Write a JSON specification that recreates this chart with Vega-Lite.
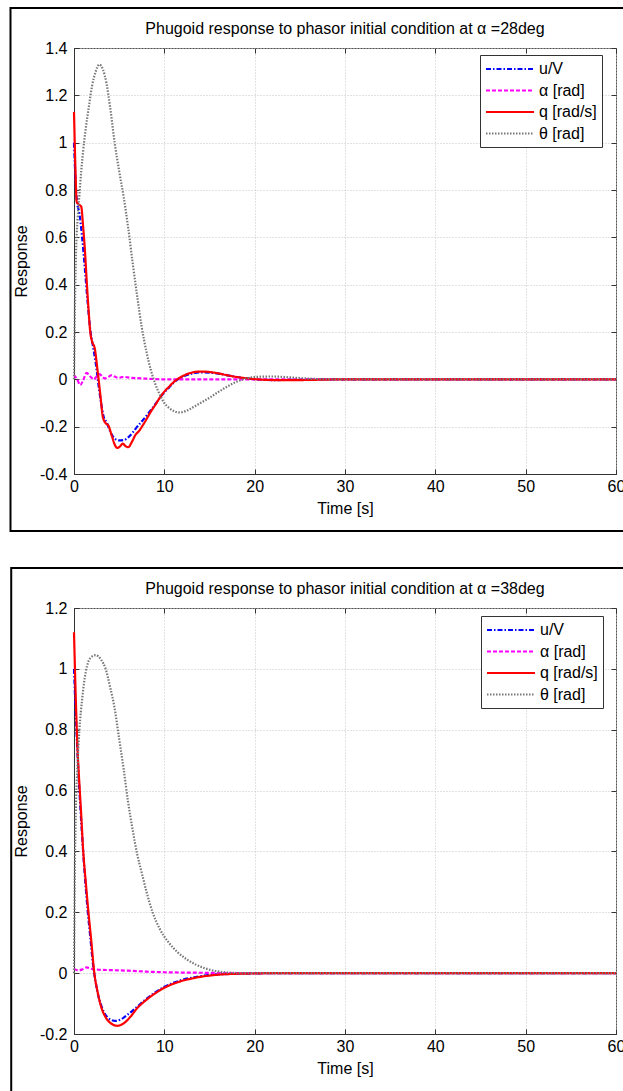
{
  "$schema": "https://vega.github.io/schema/vega-lite/v6.json",
  "background": "white",
  "padding": {"left": 8, "top": 6, "right": 0, "bottom": 0},
  "spacing": 33,
  "config": {
    "font": "Liberation Sans",
    "view": {"stroke": "#555555", "strokeWidth": 1},
    "axis": {
      "labelFont": "Liberation Sans", "labelFontSize": 16, "labelColor": "black",
      "titleFont": "Liberation Sans", "titleFontSize": 16, "titleFontWeight": "normal", "titleColor": "black",
      "gridColor": "#c4c4c4", "gridDash": [1, 2], "gridWidth": 1,
      "domainColor": "#333333", "tickColor": "#333333"
    },
    "legend": {
      "labelFont": "Liberation Sans", "labelFontSize": 16, "labelColor": "black"
    },
    "title": {"font": "Liberation Sans", "fontSize": 16, "fontWeight": "normal", "color": "black"}
  },
  "resolve": {"scale": {"color": "independent", "strokeDash": "independent"}},
  "datasets": {
    "d28": [
      {"s": "u/V", "t": 0, "v": 1.0}, {"s": "u/V", "t": 0.3, "v": 0.76}, {"s": "u/V", "t": 0.6, "v": 0.7}, {"s": "u/V", "t": 0.9, "v": 0.6},
      {"s": "u/V", "t": 1.2, "v": 0.47}, {"s": "u/V", "t": 1.5, "v": 0.33}, {"s": "u/V", "t": 1.8, "v": 0.21}, {"s": "u/V", "t": 2.1, "v": 0.14},
      {"s": "u/V", "t": 2.4, "v": 0.07}, {"s": "u/V", "t": 2.7, "v": -0.02}, {"s": "u/V", "t": 3.0, "v": -0.1}, {"s": "u/V", "t": 3.3, "v": -0.16},
      {"s": "u/V", "t": 3.6, "v": -0.18}, {"s": "u/V", "t": 4.0, "v": -0.22}, {"s": "u/V", "t": 4.5, "v": -0.25}, {"s": "u/V", "t": 5.0, "v": -0.258},
      {"s": "u/V", "t": 5.5, "v": -0.257}, {"s": "u/V", "t": 6.0, "v": -0.245}, {"s": "u/V", "t": 6.5, "v": -0.225}, {"s": "u/V", "t": 7.0, "v": -0.2},
      {"s": "u/V", "t": 7.5, "v": -0.178}, {"s": "u/V", "t": 8.0, "v": -0.155}, {"s": "u/V", "t": 8.5, "v": -0.13}, {"s": "u/V", "t": 9.0, "v": -0.105},
      {"s": "u/V", "t": 9.5, "v": -0.078}, {"s": "u/V", "t": 10.0, "v": -0.055}, {"s": "u/V", "t": 10.5, "v": -0.035}, {"s": "u/V", "t": 11.0, "v": -0.015},
      {"s": "u/V", "t": 11.5, "v": 0.0}, {"s": "u/V", "t": 12.0, "v": 0.01}, {"s": "u/V", "t": 12.5, "v": 0.018}, {"s": "u/V", "t": 13.0, "v": 0.024},
      {"s": "u/V", "t": 14.0, "v": 0.029}, {"s": "u/V", "t": 15.0, "v": 0.028}, {"s": "u/V", "t": 16.0, "v": 0.024}, {"s": "u/V", "t": 17.0, "v": 0.017},
      {"s": "u/V", "t": 18.0, "v": 0.01}, {"s": "u/V", "t": 19.0, "v": 0.004}, {"s": "u/V", "t": 20.0, "v": 0.0}, {"s": "u/V", "t": 22.0, "v": -0.003},
      {"s": "u/V", "t": 25.0, "v": -0.002}, {"s": "u/V", "t": 28.0, "v": 0.0}, {"s": "u/V", "t": 60.0, "v": 0.0},

      {"s": "α [rad]", "t": 0, "v": 0.018}, {"s": "α [rad]", "t": 0.35, "v": 0.0}, {"s": "α [rad]", "t": 0.7, "v": -0.024}, {"s": "α [rad]", "t": 1.0, "v": -0.005},
      {"s": "α [rad]", "t": 1.4, "v": 0.027}, {"s": "α [rad]", "t": 1.8, "v": 0.012}, {"s": "α [rad]", "t": 2.2, "v": 0.0}, {"s": "α [rad]", "t": 2.5, "v": 0.012},
      {"s": "α [rad]", "t": 2.85, "v": 0.022}, {"s": "α [rad]", "t": 3.1, "v": 0.012}, {"s": "α [rad]", "t": 3.4, "v": 0.004}, {"s": "α [rad]", "t": 3.8, "v": 0.01},
      {"s": "α [rad]", "t": 4.1, "v": 0.017}, {"s": "α [rad]", "t": 4.5, "v": 0.012}, {"s": "α [rad]", "t": 4.9, "v": 0.006}, {"s": "α [rad]", "t": 5.3, "v": 0.009},
      {"s": "α [rad]", "t": 5.6, "v": 0.01}, {"s": "α [rad]", "t": 6.2, "v": 0.007}, {"s": "α [rad]", "t": 7.0, "v": 0.005}, {"s": "α [rad]", "t": 8.0, "v": 0.003},
      {"s": "α [rad]", "t": 9.0, "v": 0.001}, {"s": "α [rad]", "t": 10.0, "v": 0.0}, {"s": "α [rad]", "t": 60.0, "v": 0.0},

      {"s": "q [rad/s]", "t": 0, "v": 1.13}, {"s": "q [rad/s]", "t": 0.15, "v": 0.9}, {"s": "q [rad/s]", "t": 0.3, "v": 0.75}, {"s": "q [rad/s]", "t": 0.5, "v": 0.74},
      {"s": "q [rad/s]", "t": 0.8, "v": 0.73}, {"s": "q [rad/s]", "t": 1.0, "v": 0.65}, {"s": "q [rad/s]", "t": 1.2, "v": 0.55}, {"s": "q [rad/s]", "t": 1.4, "v": 0.42},
      {"s": "q [rad/s]", "t": 1.6, "v": 0.3}, {"s": "q [rad/s]", "t": 1.8, "v": 0.2}, {"s": "q [rad/s]", "t": 2.0, "v": 0.16}, {"s": "q [rad/s]", "t": 2.3, "v": 0.13},
      {"s": "q [rad/s]", "t": 2.6, "v": 0.04}, {"s": "q [rad/s]", "t": 2.9, "v": -0.06}, {"s": "q [rad/s]", "t": 3.2, "v": -0.16}, {"s": "q [rad/s]", "t": 3.5, "v": -0.185},
      {"s": "q [rad/s]", "t": 3.8, "v": -0.195}, {"s": "q [rad/s]", "t": 4.2, "v": -0.24}, {"s": "q [rad/s]", "t": 4.5, "v": -0.275}, {"s": "q [rad/s]", "t": 4.8, "v": -0.29},
      {"s": "q [rad/s]", "t": 5.1, "v": -0.283}, {"s": "q [rad/s]", "t": 5.4, "v": -0.272}, {"s": "q [rad/s]", "t": 5.7, "v": -0.282}, {"s": "q [rad/s]", "t": 6.0, "v": -0.287},
      {"s": "q [rad/s]", "t": 6.4, "v": -0.265}, {"s": "q [rad/s]", "t": 6.8, "v": -0.235}, {"s": "q [rad/s]", "t": 7.2, "v": -0.218}, {"s": "q [rad/s]", "t": 7.6, "v": -0.195},
      {"s": "q [rad/s]", "t": 8.0, "v": -0.17}, {"s": "q [rad/s]", "t": 8.5, "v": -0.137}, {"s": "q [rad/s]", "t": 9.0, "v": -0.108}, {"s": "q [rad/s]", "t": 9.5, "v": -0.078},
      {"s": "q [rad/s]", "t": 10.0, "v": -0.052}, {"s": "q [rad/s]", "t": 10.5, "v": -0.032}, {"s": "q [rad/s]", "t": 11.0, "v": -0.013}, {"s": "q [rad/s]", "t": 11.5, "v": 0.002},
      {"s": "q [rad/s]", "t": 12.0, "v": 0.013}, {"s": "q [rad/s]", "t": 12.5, "v": 0.022}, {"s": "q [rad/s]", "t": 13.0, "v": 0.028}, {"s": "q [rad/s]", "t": 14.0, "v": 0.033},
      {"s": "q [rad/s]", "t": 15.0, "v": 0.031}, {"s": "q [rad/s]", "t": 16.0, "v": 0.025}, {"s": "q [rad/s]", "t": 17.0, "v": 0.017}, {"s": "q [rad/s]", "t": 18.0, "v": 0.01},
      {"s": "q [rad/s]", "t": 19.0, "v": 0.005}, {"s": "q [rad/s]", "t": 20.0, "v": 0.001}, {"s": "q [rad/s]", "t": 22.0, "v": -0.003}, {"s": "q [rad/s]", "t": 25.0, "v": -0.003},
      {"s": "q [rad/s]", "t": 28.0, "v": -0.001}, {"s": "q [rad/s]", "t": 30.0, "v": 0.0}, {"s": "q [rad/s]", "t": 60.0, "v": 0.0},

      {"s": "θ [rad]", "t": 0, "v": 0.0}, {"s": "θ [rad]", "t": 0.1, "v": 0.3}, {"s": "θ [rad]", "t": 0.2, "v": 0.5}, {"s": "θ [rad]", "t": 0.4, "v": 0.68},
      {"s": "θ [rad]", "t": 0.6, "v": 0.78}, {"s": "θ [rad]", "t": 0.8, "v": 0.88}, {"s": "θ [rad]", "t": 1.0, "v": 0.96}, {"s": "θ [rad]", "t": 1.3, "v": 1.06},
      {"s": "θ [rad]", "t": 1.6, "v": 1.14}, {"s": "θ [rad]", "t": 2.0, "v": 1.24}, {"s": "θ [rad]", "t": 2.4, "v": 1.3}, {"s": "θ [rad]", "t": 2.8, "v": 1.33},
      {"s": "θ [rad]", "t": 3.2, "v": 1.31}, {"s": "θ [rad]", "t": 3.6, "v": 1.25}, {"s": "θ [rad]", "t": 4.0, "v": 1.15}, {"s": "θ [rad]", "t": 4.5, "v": 1.0},
      {"s": "θ [rad]", "t": 5.0, "v": 0.88}, {"s": "θ [rad]", "t": 5.5, "v": 0.77}, {"s": "θ [rad]", "t": 6.0, "v": 0.64}, {"s": "θ [rad]", "t": 6.5, "v": 0.49},
      {"s": "θ [rad]", "t": 7.0, "v": 0.35}, {"s": "θ [rad]", "t": 7.5, "v": 0.22}, {"s": "θ [rad]", "t": 8.0, "v": 0.12}, {"s": "θ [rad]", "t": 8.5, "v": 0.04},
      {"s": "θ [rad]", "t": 9.0, "v": -0.02}, {"s": "θ [rad]", "t": 9.5, "v": -0.065}, {"s": "θ [rad]", "t": 10.0, "v": -0.1}, {"s": "θ [rad]", "t": 10.5, "v": -0.12},
      {"s": "θ [rad]", "t": 11.0, "v": -0.133}, {"s": "θ [rad]", "t": 11.7, "v": -0.14}, {"s": "θ [rad]", "t": 12.5, "v": -0.132}, {"s": "θ [rad]", "t": 13.0, "v": -0.122},
      {"s": "θ [rad]", "t": 14.0, "v": -0.1}, {"s": "θ [rad]", "t": 15.0, "v": -0.078}, {"s": "θ [rad]", "t": 16.0, "v": -0.053}, {"s": "θ [rad]", "t": 17.0, "v": -0.03},
      {"s": "θ [rad]", "t": 18.0, "v": -0.01}, {"s": "θ [rad]", "t": 19.0, "v": 0.003}, {"s": "θ [rad]", "t": 20.0, "v": 0.01}, {"s": "θ [rad]", "t": 22.0, "v": 0.012},
      {"s": "θ [rad]", "t": 24.0, "v": 0.008}, {"s": "θ [rad]", "t": 26.0, "v": 0.003}, {"s": "θ [rad]", "t": 28.0, "v": 0.0}, {"s": "θ [rad]", "t": 60.0, "v": 0.0}
    ],
    "d38": [
      {"s": "u/V", "t": 0, "v": 1.0}, {"s": "u/V", "t": 0.3, "v": 0.78}, {"s": "u/V", "t": 0.6, "v": 0.6}, {"s": "u/V", "t": 0.9, "v": 0.45},
      {"s": "u/V", "t": 1.2, "v": 0.32}, {"s": "u/V", "t": 1.5, "v": 0.21}, {"s": "u/V", "t": 1.8, "v": 0.12}, {"s": "u/V", "t": 2.1, "v": 0.03},
      {"s": "u/V", "t": 2.4, "v": -0.03}, {"s": "u/V", "t": 2.7, "v": -0.075}, {"s": "u/V", "t": 3.0, "v": -0.105}, {"s": "u/V", "t": 3.5, "v": -0.138},
      {"s": "u/V", "t": 4.0, "v": -0.152}, {"s": "u/V", "t": 4.6, "v": -0.157}, {"s": "u/V", "t": 5.2, "v": -0.152}, {"s": "u/V", "t": 6.0, "v": -0.135},
      {"s": "u/V", "t": 7.0, "v": -0.11}, {"s": "u/V", "t": 8.0, "v": -0.085}, {"s": "u/V", "t": 9.0, "v": -0.063}, {"s": "u/V", "t": 10.0, "v": -0.045},
      {"s": "u/V", "t": 11.0, "v": -0.032}, {"s": "u/V", "t": 12.0, "v": -0.022}, {"s": "u/V", "t": 13.0, "v": -0.015}, {"s": "u/V", "t": 14.0, "v": -0.01},
      {"s": "u/V", "t": 15.0, "v": -0.006}, {"s": "u/V", "t": 16.0, "v": -0.004}, {"s": "u/V", "t": 18.0, "v": -0.002}, {"s": "u/V", "t": 20.0, "v": -0.001},
      {"s": "u/V", "t": 22.0, "v": 0.0}, {"s": "u/V", "t": 60.0, "v": 0.0},

      {"s": "α [rad]", "t": 0, "v": 0.014}, {"s": "α [rad]", "t": 0.5, "v": 0.009}, {"s": "α [rad]", "t": 0.9, "v": 0.012}, {"s": "α [rad]", "t": 1.4, "v": 0.019},
      {"s": "α [rad]", "t": 1.8, "v": 0.015}, {"s": "α [rad]", "t": 2.5, "v": 0.012}, {"s": "α [rad]", "t": 4.0, "v": 0.01}, {"s": "α [rad]", "t": 6.0, "v": 0.008},
      {"s": "α [rad]", "t": 8.0, "v": 0.005}, {"s": "α [rad]", "t": 10.0, "v": 0.003}, {"s": "α [rad]", "t": 12.0, "v": 0.002}, {"s": "α [rad]", "t": 15.0, "v": 0.001},
      {"s": "α [rad]", "t": 18.0, "v": 0.0}, {"s": "α [rad]", "t": 60.0, "v": 0.0},

      {"s": "q [rad/s]", "t": 0, "v": 1.12}, {"s": "q [rad/s]", "t": 0.2, "v": 0.9}, {"s": "q [rad/s]", "t": 0.4, "v": 0.73}, {"s": "q [rad/s]", "t": 0.6, "v": 0.62},
      {"s": "q [rad/s]", "t": 0.8, "v": 0.52}, {"s": "q [rad/s]", "t": 1.0, "v": 0.41}, {"s": "q [rad/s]", "t": 1.3, "v": 0.3}, {"s": "q [rad/s]", "t": 1.6, "v": 0.2},
      {"s": "q [rad/s]", "t": 1.9, "v": 0.11}, {"s": "q [rad/s]", "t": 2.25, "v": 0.0}, {"s": "q [rad/s]", "t": 2.6, "v": -0.06}, {"s": "q [rad/s]", "t": 3.0, "v": -0.11},
      {"s": "q [rad/s]", "t": 3.5, "v": -0.145}, {"s": "q [rad/s]", "t": 4.0, "v": -0.163}, {"s": "q [rad/s]", "t": 4.8, "v": -0.173}, {"s": "q [rad/s]", "t": 5.5, "v": -0.165},
      {"s": "q [rad/s]", "t": 6.2, "v": -0.145}, {"s": "q [rad/s]", "t": 7.0, "v": -0.115}, {"s": "q [rad/s]", "t": 8.0, "v": -0.088}, {"s": "q [rad/s]", "t": 9.0, "v": -0.066},
      {"s": "q [rad/s]", "t": 10.0, "v": -0.048}, {"s": "q [rad/s]", "t": 11.0, "v": -0.035}, {"s": "q [rad/s]", "t": 12.0, "v": -0.025}, {"s": "q [rad/s]", "t": 13.0, "v": -0.018},
      {"s": "q [rad/s]", "t": 14.0, "v": -0.012}, {"s": "q [rad/s]", "t": 15.0, "v": -0.008}, {"s": "q [rad/s]", "t": 16.0, "v": -0.005}, {"s": "q [rad/s]", "t": 18.0, "v": -0.002},
      {"s": "q [rad/s]", "t": 20.0, "v": -0.001}, {"s": "q [rad/s]", "t": 22.0, "v": 0.0}, {"s": "q [rad/s]", "t": 60.0, "v": 0.0},

      {"s": "θ [rad]", "t": 0, "v": 0.0}, {"s": "θ [rad]", "t": 0.1, "v": 0.35}, {"s": "θ [rad]", "t": 0.2, "v": 0.53}, {"s": "θ [rad]", "t": 0.4, "v": 0.69},
      {"s": "θ [rad]", "t": 0.6, "v": 0.8}, {"s": "θ [rad]", "t": 0.9, "v": 0.9}, {"s": "θ [rad]", "t": 1.3, "v": 0.99}, {"s": "θ [rad]", "t": 1.8, "v": 1.035},
      {"s": "θ [rad]", "t": 2.4, "v": 1.045}, {"s": "θ [rad]", "t": 3.0, "v": 1.03}, {"s": "θ [rad]", "t": 3.5, "v": 1.0}, {"s": "θ [rad]", "t": 4.0, "v": 0.94},
      {"s": "θ [rad]", "t": 4.5, "v": 0.87}, {"s": "θ [rad]", "t": 5.0, "v": 0.77}, {"s": "θ [rad]", "t": 5.5, "v": 0.67}, {"s": "θ [rad]", "t": 6.0, "v": 0.56},
      {"s": "θ [rad]", "t": 6.5, "v": 0.47}, {"s": "θ [rad]", "t": 7.0, "v": 0.39}, {"s": "θ [rad]", "t": 7.5, "v": 0.33}, {"s": "θ [rad]", "t": 8.0, "v": 0.27},
      {"s": "θ [rad]", "t": 8.7, "v": 0.2}, {"s": "θ [rad]", "t": 9.5, "v": 0.145}, {"s": "θ [rad]", "t": 10.5, "v": 0.1}, {"s": "θ [rad]", "t": 11.5, "v": 0.068},
      {"s": "θ [rad]", "t": 12.5, "v": 0.045}, {"s": "θ [rad]", "t": 13.5, "v": 0.028}, {"s": "θ [rad]", "t": 14.5, "v": 0.016}, {"s": "θ [rad]", "t": 15.5, "v": 0.008},
      {"s": "θ [rad]", "t": 17.0, "v": 0.002}, {"s": "θ [rad]", "t": 19.0, "v": 0.0}, {"s": "θ [rad]", "t": 60.0, "v": 0.0}
    ]
  },
  "vconcat": [
    {
      "width": 542, "height": 426,
      "title": {"text": "Phugoid response to phasor initial condition at α =28deg", "frame": "group", "anchor": "middle", "baseline": "alphabetic", "offset": -43},
      "resolve": {"axis": {"x": "independent", "y": "independent"}},
      "layer": [
        {
          "data": {"name": "d28"},
          "mark": {"type": "line", "interpolate": "monotone", "strokeWidth": 2.2},
          "encoding": {
            "x": {"field": "t", "type": "quantitative", "scale": {"domain": [0, 60], "nice": false},
                  "axis": {"title": "Time [s]", "values": [0, 10, 20, 30, 40, 50, 60], "tickSize": -5, "labelPadding": 9, "titlePadding": 6, "labelFlush": false}},
            "y": {"field": "v", "type": "quantitative", "scale": {"domain": [-0.4, 1.4], "nice": false},
                  "axis": {"title": "Response", "values": [-0.4, -0.2, 0, 0.2, 0.4, 0.6, 0.8, 1, 1.2, 1.4], "tickSize": -5, "labelPadding": 12, "titlePadding": 10, "labelFlush": false,
                           "labelExpr": "datum.value < 0 ? '-' + format(-datum.value, '~g') : format(datum.value, '~g')"}},
            "color": {"field": "s", "type": "nominal",
                      "scale": {"domain": ["u/V", "α [rad]", "q [rad/s]", "θ [rad]"], "range": ["#0000ff", "#ff00ff", "#ff0000", "#777777"]},
                      "legend": {"title": null, "orient": "none", "legendX": 406, "legendY": 7, "padding": 5, "rowPadding": 4.5, "fillColor": "white", "strokeColor": "#333333", "cornerRadius": 0, "symbolType": "M-1,0H5", "symbolSize": 256, "symbolStrokeWidth": 2, "labelOffset": 36}},
            "strokeDash": {"field": "s", "type": "nominal",
                           "scale": {"domain": ["u/V", "α [rad]", "q [rad/s]", "θ [rad]"], "range": [[5, 2, 1.5, 2], [4, 2], [1, 0], [1.5, 1.5]]},
                           "legend": {"title": null, "orient": "none", "legendX": 406, "legendY": 7, "padding": 5, "rowPadding": 4.5, "fillColor": "white", "strokeColor": "#333333", "cornerRadius": 0, "symbolType": "M-1,0H5", "symbolSize": 256, "symbolStrokeWidth": 2, "labelOffset": 36}}
          }
        },
        {
          "data": {"values": [{}]},
          "mark": {"type": "rect", "fillOpacity": 0, "stroke": "black", "strokeWidth": 2},
          "encoding": {
            "x": {"datum": -7.03, "type": "quantitative", "scale": {"domain": [0, 60], "nice": false},
                  "axis": {"orient": "top", "values": [0, 10, 20, 30, 40, 50, 60], "labels": false, "grid": false, "domain": false, "title": null, "tickSize": -5}},
            "x2": {"datum": 61.6},
            "y": {"datum": 1.569, "type": "quantitative", "scale": {"domain": [-0.4, 1.4], "nice": false},
                  "axis": {"orient": "right", "values": [-0.4, -0.2, 0, 0.2, 0.4, 0.6, 0.8, 1, 1.2, 1.4], "labels": false, "grid": false, "domain": false, "title": null, "tickSize": -5}},
            "y2": {"datum": -0.641}
          }
        }
      ]
    },
    {
      "width": 542, "height": 426,
      "title": {"text": "Phugoid response to phasor initial condition at α =38deg", "frame": "group", "anchor": "middle", "baseline": "alphabetic", "offset": -43},
      "resolve": {"axis": {"x": "independent", "y": "independent"}},
      "layer": [
        {
          "data": {"name": "d38"},
          "mark": {"type": "line", "interpolate": "monotone", "strokeWidth": 2.2},
          "encoding": {
            "x": {"field": "t", "type": "quantitative", "scale": {"domain": [0, 60], "nice": false},
                  "axis": {"title": "Time [s]", "values": [0, 10, 20, 30, 40, 50, 60], "tickSize": -5, "labelPadding": 9, "titlePadding": 6, "labelFlush": false}},
            "y": {"field": "v", "type": "quantitative", "scale": {"domain": [-0.2, 1.2], "nice": false},
                  "axis": {"title": "Response", "values": [-0.2, 0, 0.2, 0.4, 0.6, 0.8, 1, 1.2], "tickSize": -5, "labelPadding": 12, "titlePadding": 10, "labelFlush": false,
                           "labelExpr": "datum.value < 0 ? '-' + format(-datum.value, '~g') : format(datum.value, '~g')"}},
            "color": {"field": "s", "type": "nominal",
                      "scale": {"domain": ["u/V", "α [rad]", "q [rad/s]", "θ [rad]"], "range": ["#0000ff", "#ff00ff", "#ff0000", "#777777"]},
                      "legend": {"title": null, "orient": "none", "legendX": 407, "legendY": 8, "padding": 5, "rowPadding": 4.5, "fillColor": "white", "strokeColor": "#333333", "cornerRadius": 0, "symbolType": "M-1,0H5", "symbolSize": 256, "symbolStrokeWidth": 2, "labelOffset": 36}},
            "strokeDash": {"field": "s", "type": "nominal",
                           "scale": {"domain": ["u/V", "α [rad]", "q [rad/s]", "θ [rad]"], "range": [[5, 2, 1.5, 2], [4, 2], [1, 0], [1.5, 1.5]]},
                           "legend": {"title": null, "orient": "none", "legendX": 407, "legendY": 8, "padding": 5, "rowPadding": 4.5, "fillColor": "white", "strokeColor": "#333333", "cornerRadius": 0, "symbolType": "M-1,0H5", "symbolSize": 256, "symbolStrokeWidth": 2, "labelOffset": 36}}
          }
        },
        {
          "data": {"values": [{}]},
          "mark": {"type": "rect", "fillOpacity": 0, "stroke": "black", "strokeWidth": 2},
          "encoding": {
            "x": {"datum": -6.95, "type": "quantitative", "scale": {"domain": [0, 60], "nice": false},
                  "axis": {"orient": "top", "values": [0, 10, 20, 30, 40, 50, 60], "labels": false, "grid": false, "domain": false, "title": null, "tickSize": -5}},
            "x2": {"datum": 61.6},
            "y": {"datum": 1.3314, "type": "quantitative", "scale": {"domain": [-0.2, 1.2], "nice": false},
                  "axis": {"orient": "right", "values": [-0.2, 0, 0.2, 0.4, 0.6, 0.8, 1, 1.2], "labels": false, "grid": false, "domain": false, "title": null, "tickSize": -5}},
            "y2": {"datum": -0.42}
          }
        }
      ]
    }
  ]
}
